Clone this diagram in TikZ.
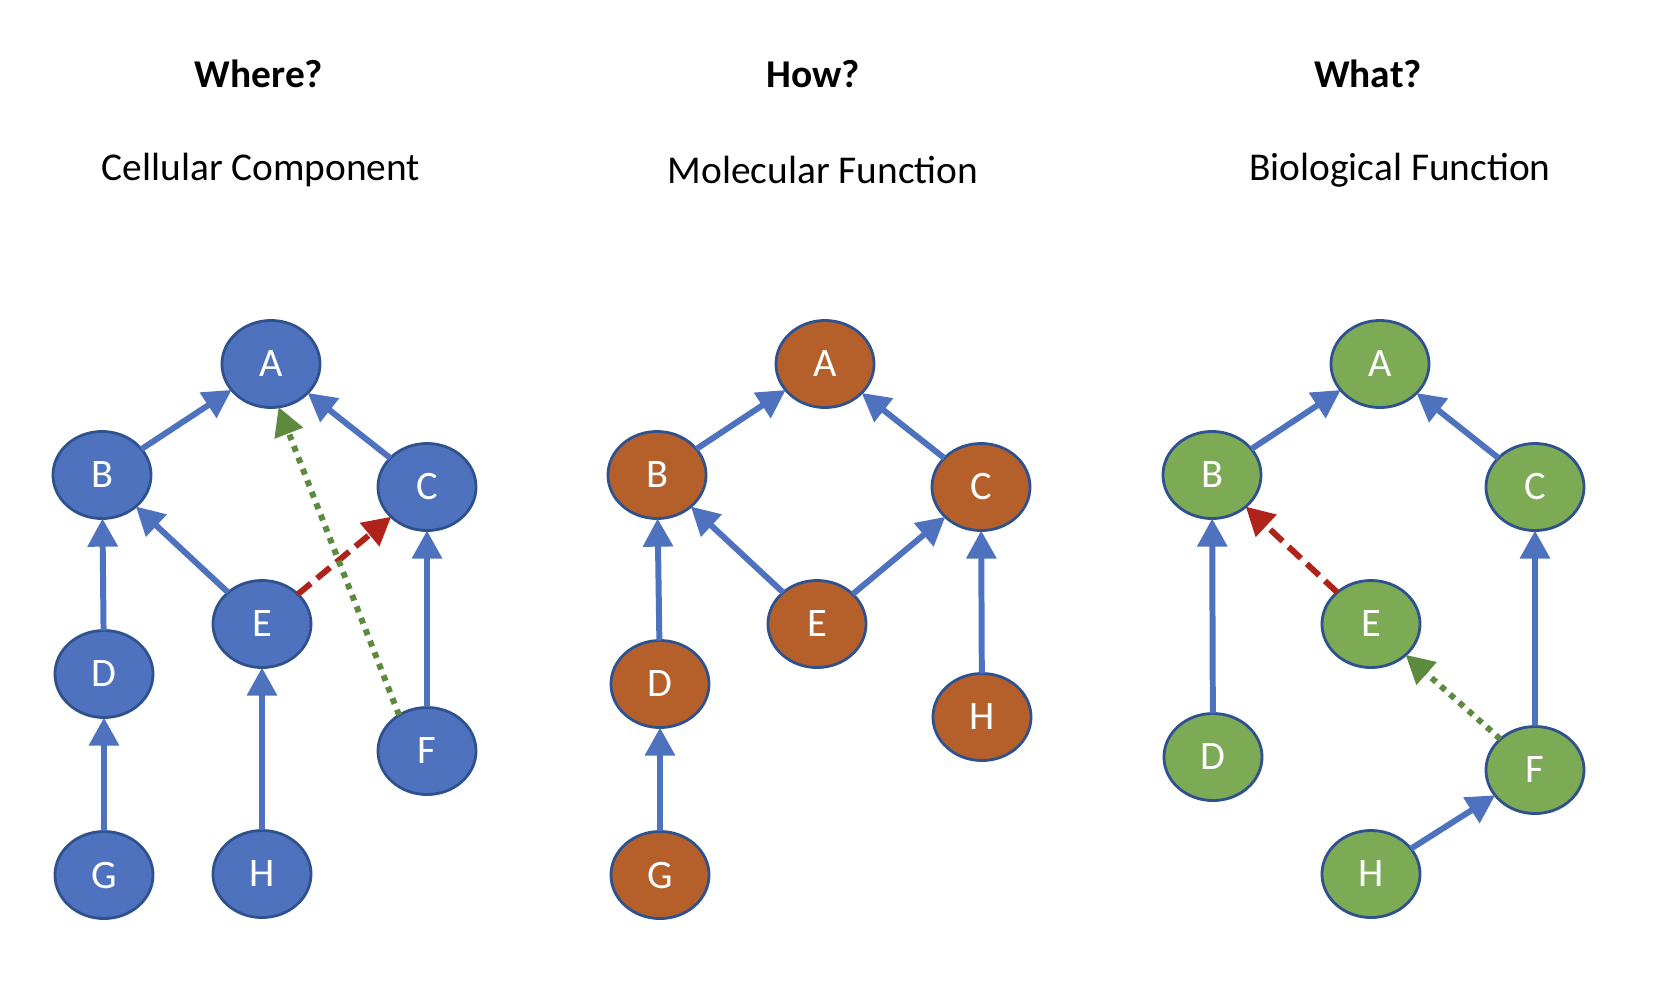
\documentclass[tikz,border=0pt]{standalone}
\usepackage{fontspec}
\setmainfont{Carlito}
\usepackage{xcolor}
\usepackage{tikz}
\usetikzlibrary{shapes.geometric,arrows.meta}
\definecolor{OntoBlue}{HTML}{4E72BE}
\definecolor{OntoEdge}{HTML}{2F528F}
\definecolor{OntoOrange}{HTML}{B5602B}
\definecolor{OntoGreen}{HTML}{7CAA55}
\definecolor{OntoRed}{HTML}{B0231A}
\definecolor{OntoOlive}{HTML}{5E8A3F}

\tikzset{
  term/.style={ellipse, draw=OntoEdge, line width=0.8pt, minimum width=0.98cm,
    minimum height=0.87cm, inner sep=0pt, outer sep=0pt, text=white,
    font=\fontsize{11.5}{13}\selectfont},
  ccterm/.style={term, fill=OntoBlue},
  mfterm/.style={term, fill=OntoOrange},
  bpterm/.style={term, fill=OntoGreen},
  isa/.style={draw=OntoBlue, line width=1.7pt, -{Triangle[length=8pt,width=8.3pt]}},
  redlink/.style={draw=OntoRed, line width=1.7pt, dash pattern=on 4.8pt off 2.3pt,
    -{Triangle[length=8pt,width=8.3pt]}},
  greenlink/.style={draw=OntoOlive, line width=1.7pt, dash pattern=on 1.7pt off 1.8pt,
    -{Triangle[length=8pt,width=8.3pt]}},
  heading/.style={font=\bfseries\fontsize{11.2}{13}\selectfont},
  subheading/.style={font=\fontsize{11.2}{13}\selectfont}
}

\begin{document}
\begin{tikzpicture}[x=0.01cm, y=-0.01cm]
    \useasboundingbox (0,0) rectangle (1672,996);

    % titles
    \node[heading] (where) at (259,74) {Where?};
    \node[subheading] (cc) at (261,170) {Cellular Component};
    \node[heading] (how) at (813,74) {How?};
    \node[subheading] (mf) at (823,170) {Molecular Function};
    \node[heading] (what) at (1368,74) {What?};
    \node[subheading] (bp) at (1400,170) {Biological Function};

    % cellular component
    \node[ccterm] (a1) at (271,364) {A};
    \node[ccterm] (b1) at (102,475) {B};
    \node[ccterm] (c1) at (427,487) {C};
    \node[ccterm] (e1) at (262,624) {E};
    \node[ccterm] (d1) at (104,674) {D};
    \node[ccterm] (f1) at (427,751) {F};
    \node[ccterm] (g1) at (104,875) {G};
    \node[ccterm] (h1) at (262,874) {H};
    \draw[isa] (b1) -- (a1);
    \draw[isa] (c1) -- (a1);
    \draw[isa] (e1) -- (b1);
    \draw[isa] (d1) -- (b1);
    \draw[isa] (g1) -- (d1);
    \draw[isa] (h1) -- (e1);
    \draw[isa] (f1) -- (c1);
    \draw[redlink] (e1) -- (c1);
    \draw[greenlink] (f1.128) -- (a1.-80);

    % molecular function
    \node[mfterm] (a2) at (825,364) {A};
    \node[mfterm] (b2) at (657,475) {B};
    \node[mfterm] (c2) at (981,487) {C};
    \node[mfterm] (e2) at (817,624) {E};
    \node[mfterm] (d2) at (660,684) {D};
    \node[mfterm] (h2) at (982,717) {H};
    \node[mfterm] (g2) at (660,875) {G};
    \draw[isa] (b2) -- (a2);
    \draw[isa] (c2) -- (a2);
    \draw[isa] (e2) -- (b2);
    \draw[isa] (e2) -- (c2);
    \draw[isa] (d2) -- (b2);
    \draw[isa] (g2) -- (d2);
    \draw[isa] (h2) -- (c2);

    % biological function
    \node[bpterm] (a3) at (1380,364) {A};
    \node[bpterm] (b3) at (1212,475) {B};
    \node[bpterm] (c3) at (1535,487) {C};
    \node[bpterm] (e3) at (1371,624) {E};
    \node[bpterm] (d3) at (1213,757) {D};
    \node[bpterm] (f3) at (1535,770) {F};
    \node[bpterm] (h3) at (1371,874) {H};
    \draw[isa] (b3) -- (a3);
    \draw[isa] (c3) -- (a3);
    \draw[isa] (d3) -- (b3);
    \draw[isa] (f3) -- (c3);
    \draw[isa] (h3) -- (f3);
    \draw[redlink] (e3) -- (b3);
    \draw[greenlink] (f3) -- (e3);
\end{tikzpicture}
\end{document}
